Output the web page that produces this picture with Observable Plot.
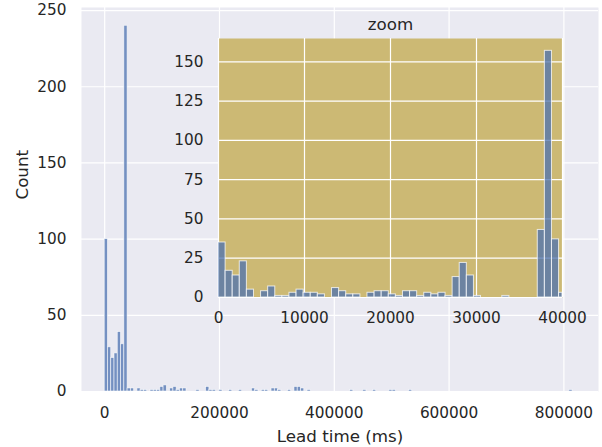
<!DOCTYPE html>
<html>
<head>
<meta charset="utf-8">
<script src="https://cdn.jsdelivr.net/npm/d3@7"></script>
<script src="https://cdn.jsdelivr.net/npm/@observablehq/plot@0.6"></script>
<style>
  html, body { margin: 0; padding: 0; background: white; }
  #wrap { position: relative; width: 602px; height: 447px; }
</style>
</head>
<body>
<div id="wrap"></div>
<script>
// ---- Main histogram (Lead time, ms) ----
const mainBinWidth = 5700;
const mainStart = [0, 5700, 11400, 17100, 22800, 28500, 34200, 39900, 45600, 57000, 62700, 68400,
  79800, 85500, 91200, 96900, 102600, 114000, 119700, 125400, 131100, 136800, 159600, 176700,
  182400, 188100, 199500, 216600, 233700, 256500, 262200, 273600, 279300, 290700, 296400, 302100,
  319200, 330600, 336300, 342000, 353400, 427500, 450300, 467400, 495900, 501600, 530100, 809400];
const mainCount = [100, 29, 22, 25, 39, 31, 240, 2, 2, 2, 1, 1,
  1, 1, 1, 3, 4, 2, 3, 1, 2, 2, 1, 3,
  1, 1, 1, 1, 1, 2, 1, 1, 1, 2, 2, 1,
  1, 3, 3, 2, 1, 1, 1, 1, 1, 1, 1, 1];
const xTicks = [0, 200000, 400000, 600000, 800000];
const yTicks = [0, 50, 100, 150, 200, 250];

// ---- Inset "zoom" histogram (0 - 40000 ms) ----
const insetBinWidth = 825;
const insetStart = [0, 825, 1650, 2475, 3300, 4125, 4950, 5775, 6600, 7425, 8250, 9075, 9900,
  10725, 11550, 12375, 13200, 14025, 14850, 15675, 16500, 17325, 18150, 18975, 19800, 20625,
  21450, 22275, 23100, 23925, 24750, 25575, 26400, 27225, 28050, 28875, 29700, 30525, 31350,
  32175, 33000, 33825, 34650, 35475, 36300, 37125, 37950, 38775, 39600];
const insetCount = [35, 17, 14, 23, 5, 0, 4, 7, 1, 1, 3, 5, 3,
  3, 2, 0, 6, 4, 2, 2, 0, 3, 4, 4, 2, 1,
  4, 4, 1, 3, 2, 3, 1, 13, 22, 14, 1, 0, 0,
  0, 1, 0, 0, 0, 0, 43, 157, 37, 3];
const insetXTicks = [0, 10000, 20000, 30000, 40000];
const insetYTicks = [0, 25, 50, 75, 100, 125, 150];

const xLabel = "Lead time (ms)";
const yLabel = "Count";
const insetTitle = "zoom";

const baseStyle = {
  fontFamily: "'DejaVu Sans', sans-serif",
  fontSize: "15.3px",
  color: "#262626",
  background: "transparent",
  overflow: "visible"
};

const main = Plot.plot({
  width: 602, height: 447,
  marginLeft: 81, marginRight: 4, marginTop: 7, marginBottom: 56,
  style: baseStyle,
  x: {domain: [-40400, 860300], ticks: xTicks, tickSize: 0, tickPadding: 16, tickFormat: d3.format("d"), label: null},
  y: {domain: [0, 252], ticks: yTicks, tickSize: 0, tickPadding: 15, label: null},
  marks: [
    Plot.frame({fill: "#EAEAF2", stroke: "none"}),
    Plot.ruleX(xTicks, {stroke: "white", strokeWidth: 1.2}),
    Plot.ruleY(yTicks, {stroke: "white", strokeWidth: 1.2}),
    Plot.rect(d3.range(mainStart.length), {
      x1: i => mainStart[i], x2: i => mainStart[i] + mainBinWidth,
      y1: () => 0, y2: i => mainCount[i],
      fill: "#4C72B0", fillOpacity: 0.75, stroke: "white", strokeOpacity: 0.75, strokeWidth: 0.75
    }),
    Plot.text([xLabel], {frameAnchor: "bottom", lineAnchor: "middle", dy: 45, fontSize: 16.7}),
    Plot.text([yLabel], {frameAnchor: "left", lineAnchor: "middle", dx: -59, rotate: -90, fontSize: 16.7})
  ]
});

const inset = Plot.plot({
  width: 418, height: 321,
  marginLeft: 50, marginRight: 24, marginTop: 30, marginBottom: 32,
  style: baseStyle,
  x: {domain: [0, 40000], ticks: insetXTicks, tickSize: 0, tickPadding: 15, tickFormat: d3.format("d"), label: null},
  y: {domain: [0, 164.85], ticks: insetYTicks, tickSize: 0, tickPadding: 15, label: null},
  marks: [
    Plot.frame({fill: "#CCB974", stroke: "none"}),
    Plot.ruleX(insetXTicks, {stroke: "white", strokeWidth: 1.2}),
    Plot.ruleY(insetYTicks, {stroke: "white", strokeWidth: 1.2}),
    Plot.rect(d3.range(insetStart.length), {
      x1: i => insetStart[i], x2: i => Math.min(insetStart[i] + insetBinWidth, 40000),
      y1: () => 0, y2: i => insetCount[i],
      fill: "#4C72B0", fillOpacity: 0.75, stroke: "white", strokeOpacity: 0.75, strokeWidth: 1
    }),
    Plot.text([insetTitle], {frameAnchor: "top", lineAnchor: "middle", dy: -14, fontSize: 16.7})
  ]
});

const wrap = document.getElementById("wrap");
main.style.position = "absolute";
main.style.left = "0px";
main.style.top = "0px";
inset.style.position = "absolute";
inset.style.left = "168px";
inset.style.top = "8px";
wrap.appendChild(main);
wrap.appendChild(inset);
</script>
</body>
</html>
